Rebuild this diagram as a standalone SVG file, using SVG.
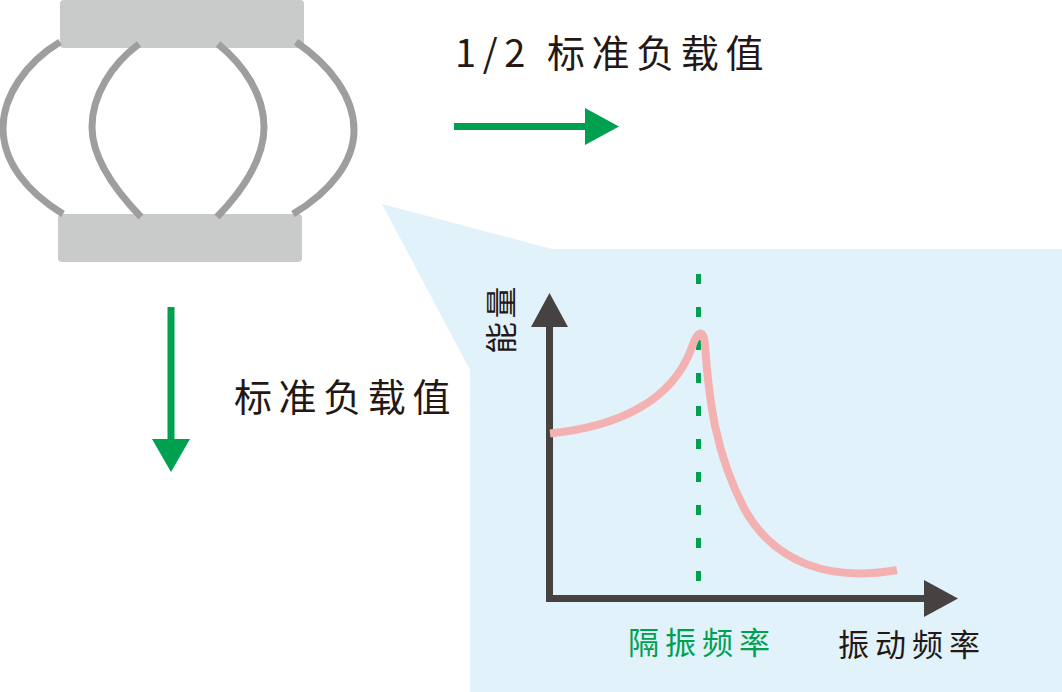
<svg xmlns="http://www.w3.org/2000/svg" width="1062" height="692" viewBox="0 0 1062 692">
<style>
.plate{fill:#c9caca}
.spring{fill:none;stroke:#9e9e9f;stroke-width:7}
.t{font-family:"Noto Sans CJK SC","Noto Sans CJK JP",sans-serif;font-size:38px;fill:#231815;letter-spacing:6.6px}
.t2{font-family:"Noto Sans CJK SC","Noto Sans CJK JP",sans-serif;font-size:31px;fill:#231815;letter-spacing:6px}
.g{stroke:#00a051;stroke-width:7;fill:none}
.gh{fill:#00a051}
.ax{stroke:#464241;stroke-width:7;fill:none}
.axh{fill:#464241}
</style>
<rect width="1062" height="692" fill="#fff"/>
<path id="callout" d="M382 204L552 249H1062V692H470V370Z" fill="#e1f2fb"/>
<g id="top-plate"><rect class="plate" x="60" y="0" width="244" height="48" rx="4"/></g>
<g id="bottom-plate"><rect class="plate" x="58" y="214" width="244" height="48" rx="4"/></g>
<g id="connectors">
<g id="springs">
<path class="spring" d="M60 42C25 63 3 97 3 128C3 162 27 192 63 214"/>
<path class="spring" d="M139 44C112 64 92 95 92 127C92 157 114 189 141 217"/>
<path class="spring" d="M218 44C244 65 264 95 264 127C264 158 244 189 217 217"/>
<path class="spring" d="M296 42C330 65 354 97 354 130C354 162 330 192 293 214"/>
</g>
<path class="g" d="M454 126.500H586"/>
<polygon class="gh" points="585,108 619,126.500 585,145"/>
<path class="g" d="M171 307V440"/>
<polygon class="gh" points="152,439 190,439 171,472"/>
<path class="ax" d="M549.500 323V600"/>
<polygon class="axh" points="549.500,293 568,327 531,327"/>
<path class="ax" d="M546 598.500H926"/>
<polygon class="axh" points="924,580 958,598.500 924,617"/>
<path d="M698.500 274V582" fill="none" stroke="#00a051" stroke-width="5" stroke-dasharray="10 23"/>
<path d="M550 433.500C615 427 672 403 692 347C697 331 704 328 705 345C709 400 715 453 745 510C775 563 830 582 897 570" fill="none" stroke="#f4b1b2" stroke-width="8"/>
</g>
<text class="t" x="455" y="67">1/2 标准负载值</text>
<text class="t" x="234" y="411">标准负载值</text>
<text class="t2" transform="translate(513 354) rotate(-90)" style="font-size:32px;letter-spacing:3.500px">能量</text>
<text class="t2" x="628" y="654" style="fill:#00a051">隔振频率</text>
<text class="t2" x="838" y="656">振动频率</text>
</svg>
